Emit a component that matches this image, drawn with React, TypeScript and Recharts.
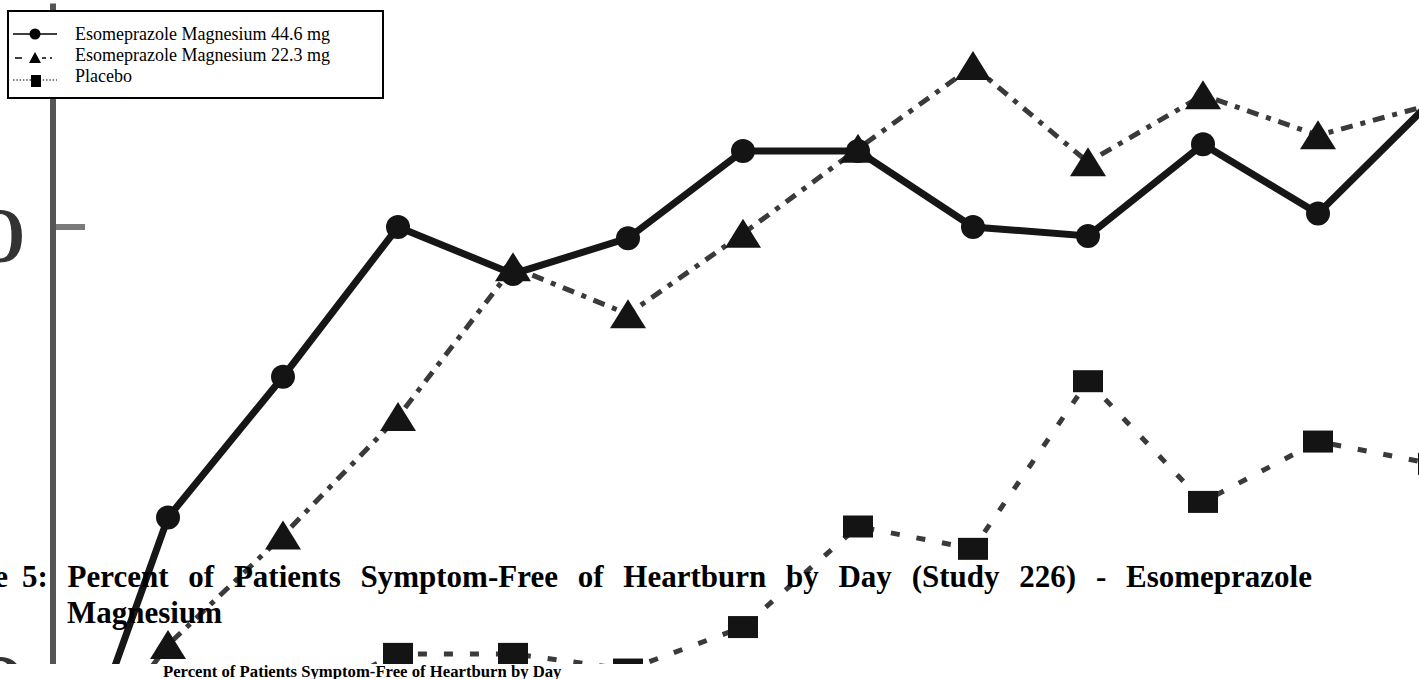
import React from 'react';
import { LineChart, Line, XAxis, YAxis } from 'recharts';

const days = [1, 2, 3, 4, 5, 6, 7, 8, 9, 10, 11, 12, 13];
const esome446 = [32.6, 47.0, 53.3, 60.0, 57.9, 59.5, 63.4, 63.4, 60.0, 59.6, 63.7, 60.6, 65.7];
const esome223 = [34.4, 41.3, 46.2, 51.5, 58.2, 56.1, 59.7, 63.5, 67.2, 62.9, 65.9, 64.1, 65.5];
const placebo = [35.0, 37.0, 38.5, 40.9, 40.9, 40.2, 42.1, 46.6, 45.6, 53.1, 47.7, 50.4, 49.4];
const yTicks = [40, 60];
const seriesNames = ['Esomeprazole Magnesium 44.6 mg', 'Esomeprazole Magnesium 22.3 mg', 'Placebo'];
const titleWords = ['5:', 'Percent', 'of', 'Patients', 'Symptom-Free', 'of', 'Heartburn', 'by', 'Day', '(Study', '226)', '-', 'Esomeprazole'];
const titlePrefix = 'Figure';
const titleLine2 = 'Magnesium';
const subTitle = 'Percent of Patients Symptom-Free of Heartburn by Day';

const data = days.map((d, i) => ({ day: d, high: esome446[i], low: esome223[i], placebo: placebo[i] }));

const SERIF = '"Liberation Serif", "Times New Roman", serif';

const CircleDot = (p: any) => <circle key={`c${p.index}`} cx={p.cx} cy={p.cy} r={12} fill="#141414" />;
const TriDot = (p: any) => (
  <polygon
    key={`t${p.index}`}
    points={`${p.cx},${p.cy - 15} ${p.cx + 18},${p.cy + 14} ${p.cx - 18},${p.cy + 14}`}
    fill="#141414"
  />
);
const SquareDot = (p: any) => (
  <rect key={`s${p.index}`} x={p.cx - 15} y={p.cy - 11} width={30} height={22} fill="#141414" />
);

const YTick = (p: any) => (
  <g>
    <line x1={56} x2={85} y1={p.y} y2={p.y} stroke="#7a7a7a" strokeWidth={6} />
    <text
      transform={`translate(25, ${p.y + 34}) scale(1.3, 1)`}
      x={0}
      y={0}
      textAnchor="end"
      fontSize={76}
      fontFamily={SERIF}
      fill="#333"
      stroke="#333"
      strokeWidth={1.2}
    >
      {p.payload.value}
    </text>
  </g>
);

const LegendBox = () => (
  <svg width={380} height={92} style={{ position: 'absolute', left: 6, top: 9 }}>
    <rect x={2} y={2} width={375} height={87} fill="#fff" stroke="#000" strokeWidth={2} />
    <line x1={7} x2={51} y1={25} y2={25} stroke="#000" strokeWidth={1.5} />
    <circle cx={29} cy={25} r={5.5} fill="#000" />
    <line x1={9} x2={16} y1={49} y2={49} stroke="#000" strokeWidth={1.5} />
    <polygon points="29,43 35,54 23,54" fill="#000" />
    <line x1={36} x2={40} y1={49} y2={49} stroke="#000" strokeWidth={1.5} />
    <line x1={44} x2={46} y1={49} y2={49} stroke="#000" strokeWidth={1.5} />
    <line x1={7} x2={51} y1={71} y2={71} stroke="#000" strokeWidth={1.2} strokeDasharray="1.5 1.8" />
    <rect x={25} y={66} width={10} height={12} fill="#000" />
    <g fontFamily={SERIF} fontSize={18} fill="#000">
      <text x={69} y={31}>{seriesNames[0]}</text>
      <text x={69} y={52}>{seriesNames[1]}</text>
      <text x={69} y={73}>{seriesNames[2]}</text>
    </g>
  </svg>
);

export default function App() {
  return (
    <div
      style={{
        position: 'absolute',
        left: 0,
        top: 0,
        width: 1419,
        height: 679,
        overflow: 'hidden',
        background: '#fff',
        fontFamily: SERIF,
      }}
    >
      <div style={{ position: 'absolute', left: 0, top: 0, width: 1419, height: 664, overflow: 'hidden' }}>
        <LineChart width={1433} height={1121} data={data} margin={{ top: 3.5, right: 0, bottom: 0, left: 0 }}>
          <XAxis dataKey="day" type="number" domain={[1, 13]} hide />
          <YAxis
            type="number"
            domain={[20, 70]}
            ticks={yTicks}
            interval={0}
            width={53}
            axisLine={{ stroke: '#555', strokeWidth: 6 }}
            tickLine={false}
            tick={<YTick />}
          />
          <Line
            type="linear"
            dataKey="placebo"
            stroke="#3a3a3a"
            strokeWidth={5}
            strokeDasharray="9 17"
            dot={SquareDot}
            isAnimationActive={false}
          />
          <Line
            type="linear"
            dataKey="low"
            stroke="#3a3a3a"
            strokeWidth={5}
            strokeDasharray="12 8 5 8"
            dot={TriDot}
            isAnimationActive={false}
          />
          <Line
            type="linear"
            dataKey="high"
            stroke="#161616"
            strokeWidth={7}
            dot={CircleDot}
            isAnimationActive={false}
          />
        </LineChart>
      </div>
      <LegendBox />
      <div
        style={{
          position: 'absolute',
          right: 1411,
          top: 558.5,
          fontSize: 31,
          lineHeight: '36px',
          fontWeight: 'bold',
          whiteSpace: 'nowrap',
        }}
      >
        {titlePrefix}
      </div>
      <div
        style={{
          position: 'absolute',
          left: 22,
          width: 1290,
          top: 558.5,
          fontSize: 31,
          lineHeight: '36px',
          fontWeight: 'bold',
          display: 'flex',
          justifyContent: 'space-between',
          whiteSpace: 'nowrap',
        }}
      >
        {titleWords.map((w, i) => (
          <span key={i}>{w}</span>
        ))}
      </div>
      <div
        style={{
          position: 'absolute',
          left: 67,
          top: 594.5,
          fontSize: 31,
          lineHeight: '36px',
          fontWeight: 'bold',
          whiteSpace: 'nowrap',
        }}
      >
        {titleLine2}
      </div>
      <div
        style={{
          position: 'absolute',
          left: 163,
          top: 661.9,
          fontSize: 16.7,
          lineHeight: '19px',
          fontWeight: 'bold',
          whiteSpace: 'nowrap',
        }}
      >
        {subTitle}
      </div>
    </div>
  );
}
